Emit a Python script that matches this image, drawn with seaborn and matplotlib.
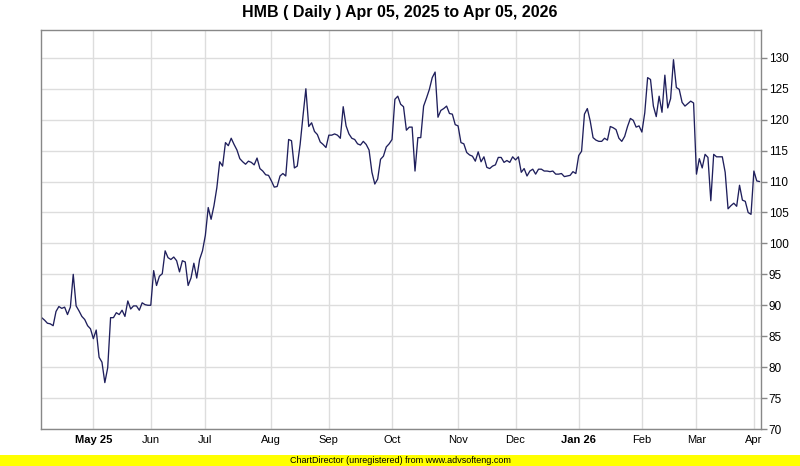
import matplotlib
matplotlib.use("Agg")
import matplotlib.pyplot as plt
import seaborn as sns
import numpy as np
import pandas as pd

# ---- data (one list per month of trading days) ----
apr_2025 = [88.0, 87.6, 87.1, 87.0, 86.7, 89.0, 89.8, 89.5, 89.7, 88.5, 89.7, 95.0,
            89.9, 89.1, 88.2, 87.7, 86.7, 86.2]
may_2025 = [84.6, 86.0, 81.6, 80.8, 77.5, 79.9, 88.0, 88.0, 88.8, 88.5, 89.2, 88.2,
            90.7, 89.4, 89.9, 89.9, 89.2, 90.4, 90.1, 90.0]
jun_2025 = [90.0, 95.6, 93.2, 94.7, 95.1, 98.8, 97.7, 97.4, 97.8, 97.2, 95.4, 97.2,
            97.0, 93.2, 94.4, 96.8, 94.4, 97.4, 98.8]
jul_2025 = [101.3, 105.8, 103.9, 106.1, 109.0, 113.2, 112.5, 116.3, 115.8, 117.0, 116.0,
            115.1, 113.7, 113.2, 112.8, 113.3, 113.1, 112.7, 113.8, 112.1, 111.7, 111.1, 111.0]
aug_2025 = [110.1, 109.1, 109.2, 110.9, 111.3, 110.9, 116.8, 116.6, 112.2, 112.5, 116.0,
            120.6, 125.0, 118.9, 119.5, 118.1, 117.6, 116.4, 116.0, 115.5]
sep_2025 = [117.5, 117.5, 117.7, 117.5, 117.0, 122.1, 119.0, 117.7, 117.0, 116.8, 116.1,
            115.9, 116.5, 116.0, 115.1, 111.5, 109.6, 110.4, 113.6, 114.1, 115.6, 116.1]
oct_2025 = [116.8, 123.3, 123.8, 122.5, 122.1, 118.3, 118.8, 118.8, 111.7, 117.1, 117.1,
            122.2, 123.5, 124.9, 126.8, 127.7, 120.4, 121.5, 121.8, 122.2, 121.0, 120.9, 119.2]
nov_2025 = [119.0, 116.3, 116.1, 114.7, 114.3, 114.1, 113.3, 114.8, 113.2, 114.0, 112.3,
            112.1, 112.5, 112.7, 113.9, 113.9, 113.1, 113.4, 113.1, 114.0]
dec_2025 = [113.5, 114.0, 111.5, 112.1, 110.9, 111.7, 112.0, 111.2, 112.0, 112.0, 111.7,
            111.7, 111.6, 111.7, 111.2, 111.2, 111.3, 110.8, 110.9, 111.0, 111.6, 111.3]
jan_2026 = [114.2, 114.9, 120.9, 121.8, 119.8, 117.1, 116.7, 116.5, 116.5, 117.0, 116.7,
            118.9, 118.7, 118.4, 117.0, 116.5, 117.3, 118.9, 120.2, 119.9, 118.8, 119.0]
feb_2026 = [118.0, 121.1, 126.8, 126.5, 122.2, 120.5, 123.8, 121.2, 127.2, 121.9, 123.4,
            129.7, 125.2, 124.9, 122.8, 122.2, 122.6, 123.0, 122.7]
mar_2026 = [111.2, 113.7, 112.2, 114.4, 113.9, 106.9, 114.4, 114.0, 114.0, 114.0, 111.5,
            105.6, 106.1, 106.5, 106.0, 109.4, 107.0, 106.8, 105.0, 104.7]
apr_2026 = [111.7, 110.1, 110.0]

months = [apr_2025, may_2025, jun_2025, jul_2025, aug_2025, sep_2025, oct_2025,
          nov_2025, dec_2025, jan_2026, feb_2026, mar_2026, apr_2026]
month_labels = ["", "May 25", "Jun", "Jul", "Aug", "Sep", "Oct", "Nov", "Dec",
                "Jan 26", "Feb", "Mar", "Apr"]
bold_labels = {"May 25", "Jan 26"}
y_ticks = [70, 75, 80, 85, 90, 95, 100, 105, 110, 115, 120, 125, 130]
title = "HMB ( Daily ) Apr 05, 2025 to Apr 05, 2026"
footer = "ChartDirector (unregistered) from www.advsofteng.com"

# ---- build table ----
prices = [v for m in months for v in m]
df = pd.DataFrame({"idx": np.arange(len(prices)), "close": prices})
starts = np.cumsum([0] + [len(m) for m in months[:-1]])

# ---- plot ----
sns.set_theme(style="white")
plt.rcParams["font.family"] = ["Liberation Sans Narrow", "Liberation Sans", "DejaVu Sans"]

W, H = 800, 466
fig = plt.figure(figsize=(W / 100, H / 100), dpi=100)
fig.patch.set_facecolor("white")
left, right, top, bottom = 40.5, 760.5, 30, 429
ax = fig.add_axes([left / W, (H - bottom) / H, (right - left) / W, (bottom - top) / H])

sns.lineplot(data=df, x="idx", y="close", ax=ax, color="#1f1f5c", linewidth=0.95)

ax.set_xlim(-0.4, len(prices) - 0.7)
ax.set_ylim(70, 134.5)

ax.set_xticks(starts[1:])
ax.set_xticklabels(month_labels[1:])
for lab in ax.get_xticklabels():
    lab.set_fontsize(8)
    lab.set_color("#000000")
    if lab.get_text() in bold_labels:
        lab.set_fontweight("bold")
ax.tick_params(axis="x", length=0, pad=4)

ax.yaxis.tick_right()
ax.set_yticks(y_ticks)
ax.set_yticklabels([str(t) for t in y_ticks])
ax.tick_params(axis="y", right=True, length=4, width=1, color="#888888",
               labelsize=8.5, labelcolor="#000000", pad=2)

ax.grid(True, color="#dddddd", linewidth=1.0)
ax.set_axisbelow(True)
for s in ax.spines.values():
    s.set_visible(True)
    s.set_color("#888888")
    s.set_linewidth(1.0)
ax.set_xlabel("")
ax.set_ylabel("")

fig.text(0.5, 1 - 13 / H, title, ha="center", va="center", fontsize=11.5,
         fontweight="bold", color="#000000")

# footer bar
fig.patches.append(plt.Rectangle((0, 0), 1, 11 / H, transform=fig.transFigure,
                                 facecolor="#ffff00", edgecolor="none", zorder=0))
fig.text(0.5, 5.5 / H, footer, ha="center", va="center", fontsize=6.5, color="#000000")

fig.savefig("out.png", dpi=100)
